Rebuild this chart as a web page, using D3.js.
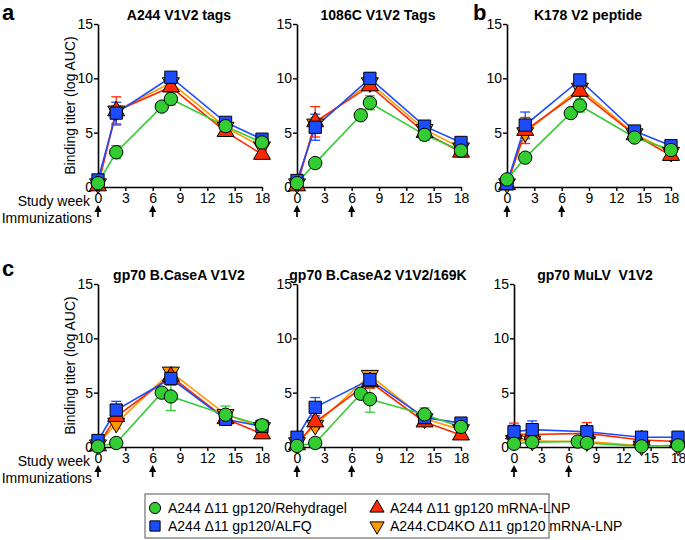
<!DOCTYPE html>
<html><head><meta charset="utf-8">
<script src="https://cdn.jsdelivr.net/npm/d3@7"></script>
<style>body{margin:0;background:#fff}svg{display:block;font-family:"Liberation Sans",Arial,sans-serif}text{white-space:pre}</style>
</head><body>
<svg id="c" width="685" height="540"></svg>
<script>
// ---------- DATA ----------
const weeksGreen = [0, 2, 7, 8, 14, 18];
const weeksOther = [0, 2, 8, 14, 18];
const xTicks = [0, 3, 6, 9, 12, 15, 18];
const yTicks = [0, 5, 10, 15];
const immunizationWeeks = [0, 6];
const panelTitles = ["A244 V1V2 tags", "1086C V1V2 Tags", "K178 V2 peptide",
  "gp70 B.CaseA V1V2", "gp70 B.CaseA2 V1V2/169K", "gp70 MuLV  V1V2"];
const seriesNames = ["A244 Δ11 gp120/Rehydragel", "A244 Δ11 gp120/ALFQ",
  "A244 Δ11 gp120 mRNA-LNP", "A244.CD4KO Δ11 gp120 mRNA-LNP"];

// values per panel: green (Rehydragel), blue (ALFQ), red (mRNA-LNP), orange (CD4KO mRNA-LNP)
const green = [
  [0.35, 3.2, 7.4, 8.1, 5.6, 4.1],
  [0.35, 2.2, 6.6, 7.75, 4.8, 3.35],
  [0.7, 2.7, 6.8, 7.5, 4.55, 3.4],
  [0.05, 0.37, 5.0, 4.65, 2.97, 2.0],
  [0.1, 0.37, 4.9, 4.4, 3.0, 1.85],
  [0.3, 0.45, 0.5, 0.37, 0.06, 0.15]];
const blue = [
  [0.65, 6.8, 10.1, 5.95, 4.4],
  [0.6, 5.5, 10.0, 5.6, 4.1],
  [0.3, 5.7, 9.85, 5.15, 3.8],
  [0.6, 3.4, 6.3, 2.55, 1.9],
  [0.9, 3.65, 6.2, 2.7, 2.2],
  [1.4, 1.6, 1.4, 0.9, 0.9]];
const red = [
  [0.1, 7.0, 9.2, 5.1, 3.0],
  [0.1, 6.0, 9.3, 5.0, 3.2],
  [0.2, 5.2, 8.8, 4.8, 2.9],
  [0.1, 2.8, 6.5, 2.6, 1.2],
  [0.2, 2.3, 6.0, 2.3, 1.1],
  [1.2, 1.15, 1.25, 0.65, 0.5]];
const orange = [
  [0.3, 7.0, 9.6, 5.5, 3.7],
  [0.3, 5.8, 9.6, 5.3, 3.6],
  [0.3, 5.0, 9.1, 4.9, 3.2],
  [0.2, 2.2, 6.9, 3.0, 1.8],
  [0.4, 2.0, 6.6, 2.6, 1.6],
  [0.6, 0.55, 0.5, 0.1, 0.1]];
// error bar half-widths (SEM)
const greenErr = [
  [0.2, 0.6, 0.2, 0.55, 0.3, 0.3],
  [0.2, 0.2, 0.2, 0.65, 0.5, 0.4],
  [0.3, 0.2, 0.2, 0.6, 0.2, 0.3],
  [0.1, 0.1, 0.2, 1.3, 0.8, 0.5],
  [0.1, 0.1, 0.2, 1.2, 0.6, 0.5],
  [0.1, 0.1, 0.1, 0.1, 0.05, 0.05]];
const blueErr = [
  [0.3, 1.0, 0.4, 0.3, 0.3],
  [0.3, 1.2, 0.5, 0.4, 0.4],
  [0.2, 1.2, 0.4, 0.3, 0.3],
  [0.3, 0.8, 0.6, 0.5, 0.4],
  [0.3, 0.9, 0.7, 0.6, 0.4],
  [0.6, 0.8, 0.5, 0.3, 0.3]];
const redErr = [
  [0.1, 1.3, 0.4, 0.4, 0.4],
  [0.1, 1.4, 0.4, 0.4, 0.4],
  [0.1, 1.2, 0.4, 0.3, 0.3],
  [0.1, 0.7, 0.6, 0.4, 0.4],
  [0.1, 0.6, 0.6, 0.4, 0.3],
  [1.0, 0.6, 1.0, 0.3, 0.3]];
const orangeErr = [
  [0.2, 0.5, 0.4, 0.3, 0.3],
  [0.2, 0.6, 0.4, 0.3, 0.3],
  [0.2, 0.6, 0.4, 0.3, 0.3],
  [0.2, 0.5, 0.4, 0.4, 0.3],
  [0.2, 0.4, 0.4, 0.4, 0.3],
  [0.3, 0.3, 0.3, 0.1, 0.1]];

// ---------- LAYOUT / STYLE ----------
const colors = {green: "#33cc33", blue: "#1c4cff", red: "#ff2a00", orange: "#ff9900"};
const svg = d3.select("#c");
const panels = [
  {x0: 98, y0: 187, y15: 24}, {x0: 297, y0: 187, y15: 24}, {x0: 507, y0: 187, y15: 24},
  {x0: 98, y0: 447, y15: 284}, {x0: 297, y0: 447, y15: 284}, {x0: 514, y0: 447, y15: 284}];
const W = 164;

const seriesDefs = [
  {key: "orange", vals: orange, err: orangeErr, weeks: weeksOther, sym: "down"},
  {key: "red", vals: red, err: redErr, weeks: weeksOther, sym: "up"},
  {key: "blue", vals: blue, err: blueErr, weeks: weeksOther, sym: "square"},
  {key: "green", vals: green, err: greenErr, weeks: weeksGreen, sym: "circle"}];

function symPath(kind, scale) {
  scale = scale || 1;
  if (kind === "circle") return d3.symbol(d3.symbolCircle, 140 * scale)();
  if (kind === "square") return d3.symbol(d3.symbolSquare, 150 * scale)();
  return d3.symbol(d3.symbolTriangle, 125 * scale)();
}

panels.forEach((p, i) => {
  const x = d3.scaleLinear().domain([0, 18]).range([p.x0, p.x0 + W]);
  const y = d3.scaleLinear().domain([0, 15]).range([p.y0, p.y15]);
  const g = svg.append("g");

  // axes
  const ya = g.append("g").attr("transform", `translate(${p.x0},0)`)
    .call(d3.axisLeft(y).tickValues(yTicks).tickSize(4).tickPadding(1).tickSizeOuter(0));
  const xa = g.append("g").attr("transform", `translate(0,${p.y0})`)
    .call(d3.axisBottom(x).tickValues(xTicks).tickSize(4).tickPadding(2).tickSizeOuter(0));
  [ya, xa].forEach(a => {
    a.select(".domain").attr("stroke", "#000").attr("stroke-width", 1.6);
    a.selectAll(".tick line").attr("stroke", "#000").attr("stroke-width", 1.4);
    a.selectAll(".tick text").attr("fill", "#000").style("font-size", "14px")
      .style("font-family", '"Liberation Sans",Arial,sans-serif');
  });

  // title
  g.append("text").attr("x", p.x0 + W / 2 - 1).attr("y", p.y15 - 4).attr("text-anchor", "middle")
    .style("font-weight", "bold").style("font-size", "14px").text(panelTitles[i]);

  // arrows
  immunizationWeeks.forEach(w => {
    const ax = x(w), tip = p.y0 + 18;
    g.append("line").attr("x1", ax).attr("x2", ax).attr("y1", tip + 5).attr("y2", tip + 12)
      .attr("stroke", "#000").attr("stroke-width", 1.7);
    g.append("path").attr("d", `M${ax},${tip} L${ax - 3.6},${tip + 7} L${ax + 3.6},${tip + 7} Z`).attr("fill", "#000");
  });

  // lines
  seriesDefs.forEach(s => {
    const pts = s.weeks.map((w, j) => [x(w), y(s.vals[i][j])]);
    g.append("path").attr("d", d3.line()(pts)).attr("fill", "none")
      .attr("stroke", colors[s.key]).attr("stroke-width", 1.6);
  });
  // error bars
  seriesDefs.forEach(s => {
    s.weeks.forEach((w, j) => {
      const v = s.vals[i][j], e = s.err[i][j], cx = x(w);
      const hi = y(v + e), lo = y(Math.max(0, v - e));
      const eg = g.append("g").attr("stroke", colors[s.key]).attr("stroke-width", 1.3);
      eg.append("line").attr("x1", cx).attr("x2", cx).attr("y1", hi).attr("y2", lo);
      eg.append("line").attr("x1", cx - 5).attr("x2", cx + 5).attr("y1", hi).attr("y2", hi);
      eg.append("line").attr("x1", cx - 5).attr("x2", cx + 5).attr("y1", lo).attr("y2", lo);
    });
  });
  // markers
  seriesDefs.forEach(s => {
    s.weeks.forEach((w, j) => {
      const rot = s.sym === "down" ? " rotate(180)" : "";
      g.append("path").attr("d", symPath(s.sym))
        .attr("transform", `translate(${x(w)},${y(s.vals[i][j])})${rot}`)
        .attr("fill", colors[s.key]).attr("stroke", "#000").attr("stroke-width", 1);
    });
  });

  // left labels
  if (i === 0 || i === 3) {
    g.append("text").attr("transform", `translate(75,${(p.y0 + p.y15) / 2}) rotate(-90)`)
      .attr("text-anchor", "middle").style("font-size", "14px").text("Binding titer (log AUC)");
    g.append("text").attr("x", p.x0 - 8).attr("y", p.y0 + 19).attr("text-anchor", "end")
      .style("font-size", "14px").text("Study week");
    g.append("text").attr("x", p.x0 - 6).attr("y", p.y0 + 36).attr("text-anchor", "end")
      .style("font-size", "14px").text("Immunizations");
  }
});

// panel letters
[["a", 2, 20], ["b", 473, 20], ["c", 2, 276]].forEach(([t, lx, ly]) => {
  svg.append("text").attr("x", lx).attr("y", ly).style("font-weight", "bold")
    .style("font-size", "22px").text(t);
});

// legend
svg.append("rect").attr("x", 145).attr("y", 494).attr("width", 404).attr("height", 44)
  .attr("fill", "#fff").attr("stroke", "#555").attr("stroke-width", 1);
const legItems = [
  {key: "green", sym: "circle", name: seriesNames[0], lx: 155, ly: 508},
  {key: "blue", sym: "square", name: seriesNames[1], lx: 155, ly: 526},
  {key: "red", sym: "up", name: seriesNames[2], lx: 377, ly: 508},
  {key: "orange", sym: "down", name: seriesNames[3], lx: 377, ly: 526}];
legItems.forEach(d => {
  const rot = d.sym === "down" ? " rotate(180)" : "";
  svg.append("path").attr("d", symPath(d.sym, 0.7))
    .attr("transform", `translate(${d.lx},${d.ly})${rot}`)
    .attr("fill", colors[d.key]).attr("stroke", "#000").attr("stroke-width", 1);
  svg.append("text").attr("x", d.lx + 13).attr("y", d.ly + 5).style("font-size", "14px").text(d.name);
});
</script>
</body></html>
